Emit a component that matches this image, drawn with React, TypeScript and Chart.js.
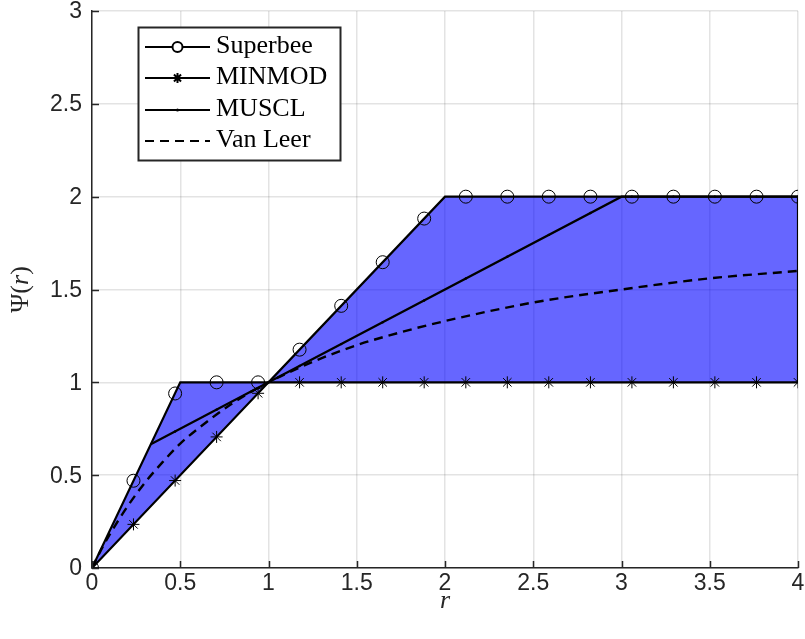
import React, { useEffect, useRef } from "react";
import { Chart, registerables } from "chart.js";
Chart.register(...registerables);

// Limiter vertices (r, Psi)
const superbeeR = [0, 0.5, 1, 2, 4];
const superbeePsi = [0, 1, 1, 2, 2];
const minmodR = [0, 1, 4];
const minmodPsi = [0, 1, 1];
const musclR = [0.333, 1, 3, 4];
const musclPsi = [0.667, 1, 2, 2];
const vanLeerR = [0, 0.05, 0.1, 0.2, 0.3, 0.4, 0.5, 0.6, 0.8, 1, 1.25, 1.5, 1.75, 2, 2.5, 3, 3.5, 4];
const vanLeerPsi = [0, 0.095, 0.18, 0.33, 0.46, 0.57, 0.67, 0.75, 0.89, 1, 1.11, 1.2, 1.27, 1.33, 1.43, 1.5, 1.56, 1.6];

// Marker sample points
const sampleR = [0, 0.235, 0.471, 0.706, 0.941, 1.176, 1.412, 1.647, 1.882, 2.118, 2.353, 2.588, 2.824, 3.059, 3.294, 3.529, 3.765, 4.0];
const superbeeMarks = [0, 0.47, 0.94, 1, 1, 1.176, 1.412, 1.647, 1.882, 2, 2, 2, 2, 2, 2, 2, 2, 2];
const minmodMarks = [0, 0.235, 0.471, 0.706, 0.941, 1, 1, 1, 1, 1, 1, 1, 1, 1, 1, 1, 1, 1];
const musclDotR = [0.471, 0.706, 0.941, 1.176, 1.412, 1.647, 1.882, 2.118, 2.353, 2.588, 2.824, 3.059, 3.294, 3.529, 3.765, 4.0];
const musclDots = [0.735, 0.853, 0.97, 1.088, 1.206, 1.324, 1.441, 1.559, 1.676, 1.794, 1.912, 2, 2, 2, 2, 2];

const legendNames = ["Superbee", "MINMOD", "MUSCL", "Van Leer"];
const xTicks = [0, 0.5, 1, 1.5, 2, 2.5, 3, 3.5, 4];
const yTicks = [0, 0.5, 1, 1.5, 2, 2.5, 3];
const xTickLabels = ["0", "0.5", "1", "1.5", "2", "2.5", "3", "3.5", "4"];
const yTickLabels = ["0", "0.5", "1", "1.5", "2", "2.5", "3"];

const AX = "#262626";
const TICK_FONT = '23px "Liberation Sans"';

const pts = (xs: number[], ys: number[]) => xs.map((x, i) => ({ x, y: ys[i] }));

const decorPlugin = {
  id: "decor",
  afterDraw(chart: any) {
    const ctx = chart.ctx as CanvasRenderingContext2D;
    const { left, right, top, bottom } = chart.chartArea;
    const xs = chart.scales.x;
    const ys = chart.scales.y;
    ctx.save();
    // inward ticks
    ctx.strokeStyle = AX;
    ctx.lineWidth = 1.5;
    ctx.beginPath();
    for (const v of xTicks) {
      const px = Math.round(xs.getPixelForValue(v)) + 0.5;
      ctx.moveTo(px, bottom);
      ctx.lineTo(px, bottom - 7);
    }
    for (const v of yTicks) {
      const py = Math.round(ys.getPixelForValue(v)) + 0.5;
      ctx.moveTo(left, py);
      ctx.lineTo(left + 7, py);
    }
    ctx.stroke();

    // tick labels
    ctx.fillStyle = AX;
    ctx.font = TICK_FONT;
    ctx.textAlign = "center";
    ctx.textBaseline = "alphabetic";
    xTicks.forEach((v, i) => {
      ctx.fillText(xTickLabels[i], xs.getPixelForValue(v), bottom + 22);
    });
    ctx.textAlign = "right";
    ctx.textBaseline = "middle";
    yTicks.forEach((v, i) => {
      ctx.fillText(yTickLabels[i], left - 10, ys.getPixelForValue(v) + 1);
    });

    // x title
    ctx.font = 'italic 26px "Liberation Serif"';
    ctx.textAlign = "center";
    ctx.textBaseline = "alphabetic";
    ctx.fillText("r", (left + right) / 2, 608);

    // y title
    ctx.save();
    ctx.translate(28, (top + bottom) / 2);
    ctx.rotate(-Math.PI / 2);
    const parts: [string, string][] = [
      ["Ψ", '26px "Liberation Serif"'],
      ["(", '26px "Liberation Serif"'],
      ["r", 'italic 26px "Liberation Serif"'],
      [")", '26px "Liberation Serif"'],
    ];
    let total = 0;
    for (const [t, f] of parts) {
      ctx.font = f;
      total += ctx.measureText(t).width;
    }
    let cx = -total / 2;
    ctx.textAlign = "left";
    for (const [t, f] of parts) {
      ctx.font = f;
      ctx.fillText(t, cx, 0);
      cx += ctx.measureText(t).width;
    }
    ctx.restore();

    // legend
    const bx = 138.5, by = 27.5, bw = 202, bh = 133;
    ctx.fillStyle = "#ffffff";
    ctx.fillRect(bx, by, bw, bh);
    ctx.strokeStyle = AX;
    ctx.lineWidth = 2;
    ctx.strokeRect(bx, by, bw, bh);
    const rows = [47, 78, 110, 141];
    const lx0 = 145, lx1 = 210, mx = 177.5;
    ctx.strokeStyle = "#000";
    ctx.lineWidth = 2;
    rows.forEach((ry, i) => {
      ctx.save();
      if (i === 3) ctx.setLineDash([9, 6]);
      ctx.beginPath();
      ctx.moveTo(lx0, ry);
      ctx.lineTo(lx1, ry);
      ctx.stroke();
      ctx.restore();
      if (i === 0) {
        ctx.fillStyle = "#fff";
        ctx.beginPath();
        ctx.arc(mx, ry, 5, 0, Math.PI * 2);
        ctx.fill();
        ctx.stroke();
      } else if (i === 1) {
        ctx.beginPath();
        const r = 5;
        for (let k = 0; k < 4; k++) {
          const a = (k * Math.PI) / 4;
          ctx.moveTo(mx - r * Math.cos(a), ry - r * Math.sin(a));
          ctx.lineTo(mx + r * Math.cos(a), ry + r * Math.sin(a));
        }
        ctx.stroke();
      } else if (i === 2) {
        ctx.fillStyle = "#000";
        ctx.beginPath();
        ctx.arc(mx, ry, 1.5, 0, Math.PI * 2);
        ctx.fill();
      }
      ctx.fillStyle = "#000";
      ctx.font = '26px "Liberation Serif"';
      ctx.textAlign = "left";
      ctx.textBaseline = "alphabetic";
      ctx.fillText(legendNames[i], 216, ry + 6);
    });
    ctx.restore();
  },
};

export default function App() {
  const ref = useRef<HTMLCanvasElement | null>(null);
  useEffect(() => {
    if (!ref.current) return;
    const polygon = [
      ...pts(superbeeR, superbeePsi),
      ...pts(minmodR, minmodPsi).reverse(),
    ];
    const chart = new Chart(ref.current, {
      type: "scatter",
      data: {
        datasets: [
          {
            label: "region",
            data: polygon,
            showLine: true,
            fill: "shape",
            backgroundColor: "rgba(0,0,255,0.6)",
            borderColor: "#000",
            borderWidth: 2.2,
            pointRadius: 0,
            order: 10,
          } as any,
          {
            label: "MUSCL",
            data: pts(musclR, musclPsi),
            showLine: true,
            borderColor: "#000",
            borderWidth: 2.2,
            pointRadius: 0,
            order: 5,
          },
          {
            label: "Van Leer",
            data: pts(vanLeerR, vanLeerPsi),
            showLine: true,
            borderColor: "#000",
            borderWidth: 2.4,
            borderDash: [9, 6],
            cubicInterpolationMode: "monotone",
            pointRadius: 0,
            order: 4,
          },
          {
            label: "MUSCL dots",
            data: pts(musclDotR, musclDots),
            showLine: false,
            pointStyle: "circle",
            pointRadius: 1.2,
            backgroundColor: "#000",
            borderColor: "#000",
            borderWidth: 0,
            order: 3,
          },
          {
            label: "Superbee marks",
            data: pts(sampleR, superbeeMarks),
            showLine: false,
            pointStyle: "circle",
            pointRadius: 6.5,
            backgroundColor: "rgba(0,0,0,0)",
            borderColor: "#000",
            borderWidth: 1,
            order: 2,
          },
          {
            label: "MINMOD marks",
            data: pts(sampleR, minmodMarks),
            showLine: false,
            pointStyle: "star",
            pointRadius: 6,
            backgroundColor: "rgba(0,0,0,0)",
            borderColor: "#000",
            borderWidth: 1,
            order: 1,
          },
        ],
      },
      options: {
        animation: false,
        responsive: false,
        layout: { autoPadding: false, padding: { top: 11, right: 7, left: 0, bottom: 0 } },
        plugins: { legend: { display: false }, tooltip: { enabled: false } },
        scales: {
          x: {
            type: "linear",
            min: 0,
            max: 4,
            afterFit: (s: any) => {
              s.height = 71;
            },
            afterBuildTicks: (s: any) => {
              s.ticks = xTicks.map((v) => ({ value: v }));
            },
            ticks: { display: false },
            grid: {
              color: "rgba(38,38,38,0.13)",
              lineWidth: 1.5,
              drawTicks: false,
            },
            border: { display: true, color: AX, width: 1.5 },
          },
          y: {
            type: "linear",
            min: 0,
            max: 3,
            afterFit: (s: any) => {
              s.width = 92;
            },
            afterBuildTicks: (s: any) => {
              s.ticks = yTicks.map((v) => ({ value: v }));
            },
            ticks: { display: false },
            grid: {
              color: "rgba(38,38,38,0.13)",
              lineWidth: 1.5,
              drawTicks: false,
            },
            border: { display: true, color: AX, width: 1.5 },
          },
        },
      },
      plugins: [decorPlugin],
    });
    return () => chart.destroy();
  }, []);
  return (
    <div style={{ position: "absolute", left: 0, top: 0, width: 805, height: 639, background: "#fff" }}>
      <canvas ref={ref} width={805} height={639} />
    </div>
  );
}
